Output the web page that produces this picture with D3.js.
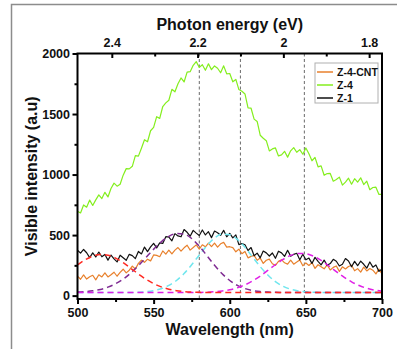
<!DOCTYPE html>
<html><head><meta charset="utf-8">
<script src="https://cdn.jsdelivr.net/npm/d3@7"></script>
<style>
html,body{margin:0;padding:0;background:#fff;}
svg{display:block;}
text{font-family:"Liberation Sans",Arial,sans-serif;font-weight:bold;fill:#111;}
</style></head><body>
<svg id="chart" width="399" height="349"></svg>
<script>
// Measured spectra, sampled every 2 nm from 500 to 700 nm
const specStart = 500, specStep = 2;
const z4 = [697,683,749,730,789,745,791,832,802,853,815,885,929,904,920,995,1049,1047,1068,1156,
  1152,1218,1288,1271,1362,1390,1478,1464,1562,1592,1614,1704,1684,1750,1798,1765,1846,1850,1902,1933,
  1885,1907,1861,1915,1867,1897,1878,1841,1898,1832,1835,1766,1786,1702,1688,1666,1550,1548,1458,1439,
  1325,1300,1280,1195,1212,1220,1154,1162,1192,1144,1196,1222,1184,1206,1168,1220,1172,1114,1142,1064,
  1072,994,1008,1009,945,959,979,913,938,970,920,966,938,973,917,945,875,893,896,836,836];
const z1 = [375,351,381,354,314,353,319,360,321,340,293,335,304,278,334,313,292,341,330,306,
  365,344,401,363,402,432,394,436,431,487,484,453,512,493,486,546,523,491,539,516,
  496,542,501,528,479,533,519,498,539,486,514,477,502,421,429,420,373,397,329,351,
  312,368,353,327,352,308,367,353,324,374,326,341,350,296,342,296,310,266,316,283,
  254,293,250,265,300,284,245,259,306,286,238,283,247,285,259,227,278,235,253,200,221];
const z4cnt = [161,135,171,137,156,168,130,172,154,188,154,172,193,160,192,218,188,210,244,220,
  266,293,275,301,287,336,332,321,369,342,375,344,376,397,368,395,416,376,397,419,
  384,420,403,434,405,434,400,428,440,401,404,396,362,384,346,365,312,324,332,292,
  310,266,292,301,263,250,283,297,271,260,293,260,277,295,246,270,249,273,225,255,
  239,221,254,212,233,245,200,238,220,241,251,205,223,194,235,204,224,210,179,219,179];

// Gaussian peak components, sampled every 5 nm from 500 to 700 nm
const fitStart = 500, fitStep = 5;
const fitCyan = [25,25,25,25,25,25,25,26,28,32,41,57,84,125,182,255,335,413,475,507,
  503,464,399,319,239,170,115,77,53,39,31,28,26,25,25,25,25,25,25,25,25];
const fitPurple = [29,33,40,51,70,98,136,187,248,315,383,444,490,513,509,471,408,330,251,181,
  125,84,58,42,33,29,27,26,25,25,25,25,25,25,25,25,25,25,25,25,25];
const fitMagenta = [25,25,25,25,25,25,25,25,25,25,25,25,25,25,25,25,26,28,32,38,
  48,65,89,121,161,208,255,299,332,348,346,326,291,246,198,153,114,83,61,46,36];
const fitRed = [254,296,326,340,334,310,272,226,178,135,99,72,53,41,33,29,27,26,25,25,
  25,25,25,25,25,25,25,25,25,25,25,25,25,25,25,25,25,25,25,25,25];

// Peak positions marked with vertical guides (nm)
const peakLines = [580, 607, 649];

// Axis ticks
const xTicks = [500, 550, 600, 650, 700];
const xMinor = [525, 575, 625, 675];
const yTicks = [0, 500, 1000, 1500, 2000];
const yMinor = [250, 750, 1250, 1750];
const eTicks = [2.4, 2.2, 2.0, 1.8];
const eLabels = ["2.4", "2.2", "2", "1.8"];
const eMinor = [2.3, 2.1, 1.9];

const seriesNames = ["Z-4-CNT", "Z-4", "Z-1"];
const seriesColors = ["#e8812d", "#84ee1e", "#111111"];

const svg = d3.select("#chart");
const L = 77.5, R = 382, T = 53.5, B = 299;

const x = d3.scaleLinear().domain([500, 700]).range([L, R]);
const y = d3.scaleLinear().domain([-28, 2000]).range([B, T]);
const e = d3.scaleLinear().domain([2.48, 1.77]).range([L, R]);

// outer panel border
svg.append("path")
  .attr("d", "M11.5,349V4.5H397")
  .attr("fill", "none").attr("stroke", "#8c8c8c").attr("stroke-width", 1.5);

svg.append("defs").append("clipPath").attr("id", "plot")
  .append("rect").attr("x", L).attr("y", T).attr("width", R - L).attr("height", B - T);

const plot = svg.append("g").attr("clip-path", "url(#plot)");

// vertical guides at peak positions
plot.selectAll("line.peak").data(peakLines).join("line")
  .attr("class", "peak")
  .attr("x1", d => x(d)).attr("x2", d => x(d))
  .attr("y1", T).attr("y2", B)
  .attr("stroke", "#444").attr("stroke-width", 0.8).attr("stroke-dasharray", "3,2.5");

const specLine = d3.line()
  .x((d, i) => x(specStart + i * specStep))
  .y(d => y(d));

const spectra = [z4cnt, z4, z1];
// draw order: green underneath, then orange, black on top
[1, 0, 2].forEach(k => {
  plot.append("path").datum(spectra[k])
    .attr("d", specLine)
    .attr("fill", "none")
    .attr("stroke", seriesColors[k])
    .attr("stroke-width", 1.2)
    .attr("stroke-linejoin", "round");
});

const fitLine = d3.line()
  .x((d, i) => x(fitStart + i * fitStep))
  .y(d => y(d))
  .curve(d3.curveMonotoneX);

const fits = [
  {data: fitCyan, color: "#6fe6ee"},
  {data: fitPurple, color: "#7f2b92"},
  {data: fitMagenta, color: "#e020e6"},
  {data: fitRed, color: "#ff2a22"}
];
fits.forEach(f => {
  plot.append("path").datum(f.data)
    .attr("d", fitLine)
    .attr("fill", "none")
    .attr("stroke", f.color)
    .attr("stroke-width", 1.5)
    .attr("stroke-dasharray", "6,4");
});

// plot frame
svg.append("rect")
  .attr("x", L).attr("y", T).attr("width", R - L).attr("height", B - T)
  .attr("fill", "none").attr("stroke", "#000").attr("stroke-width", 2);

function styleAxis(g, size) {
  g.select(".domain").remove();
  g.selectAll(".tick line").attr("stroke", "#000").attr("stroke-width", 2);
  g.selectAll(".tick text").style("font-size", size + "px").attr("fill", "#111");
}

// bottom axis
const gB = svg.append("g").attr("transform", `translate(0,${B})`)
  .call(d3.axisBottom(x).tickValues(xTicks).tickSize(5).tickSizeOuter(0).tickPadding(4.5).tickFormat(d3.format("d")));
styleAxis(gB, 12.5);
const gBm = svg.append("g").attr("transform", `translate(0,${B})`)
  .call(d3.axisBottom(x).tickValues(xMinor).tickSize(3).tickSizeOuter(0).tickFormat(""));
styleAxis(gBm, 12.5);

// left axis
const gL = svg.append("g").attr("transform", `translate(${L},0)`)
  .call(d3.axisLeft(y).tickValues(yTicks).tickSize(5).tickSizeOuter(0).tickPadding(2.5).tickFormat(d3.format("d")));
styleAxis(gL, 12.5);
const gLm = svg.append("g").attr("transform", `translate(${L},0)`)
  .call(d3.axisLeft(y).tickValues(yMinor).tickSize(3).tickSizeOuter(0).tickFormat(""));
styleAxis(gLm, 12.5);

// top axis: photon energy, ticks pointing into the plot
const gT = svg.append("g").attr("transform", `translate(0,${T})`)
  .call(d3.axisTop(e).tickValues(eTicks).tickSize(-4.5).tickSizeOuter(0).tickPadding(6.5)
    .tickFormat((d, i) => eLabels[i]));
styleAxis(gT, 12.5);
const gTm = svg.append("g").attr("transform", `translate(0,${T})`)
  .call(d3.axisTop(e).tickValues(eMinor).tickSize(-3).tickSizeOuter(0).tickFormat(""));
styleAxis(gTm, 12.5);

// axis titles
svg.append("text").attr("x", (L + R) / 2).attr("y", 335)
  .attr("text-anchor", "middle").style("font-size", "16px").text("Wavelength (nm)");
svg.append("text").attr("x", (L + R) / 2).attr("y", 30)
  .attr("text-anchor", "middle").style("font-size", "16px").text("Photon energy (eV)");
svg.append("text")
  .attr("transform", `translate(37,${(T + B) / 2}) rotate(-90)`)
  .attr("text-anchor", "middle").style("font-size", "16px").text("Visible intensity (a.u)");

// legend
const lg = svg.append("g").attr("transform", "translate(315,63)");
lg.append("rect").attr("width", 63).attr("height", 40)
  .attr("fill", "#fff").attr("stroke", "#b0b0b0").attr("stroke-width", 1);
seriesNames.forEach((name, i) => {
  const yy = 9 + i * 13;
  lg.append("line").attr("x1", 2).attr("x2", 18).attr("y1", yy).attr("y2", yy)
    .attr("stroke", seriesColors[i]).attr("stroke-width", 1.5);
  lg.append("text").attr("x", 22).attr("y", yy).attr("dy", "0.35em")
    .style("font-size", "10.5px").text(name);
});
</script>
</body></html>
